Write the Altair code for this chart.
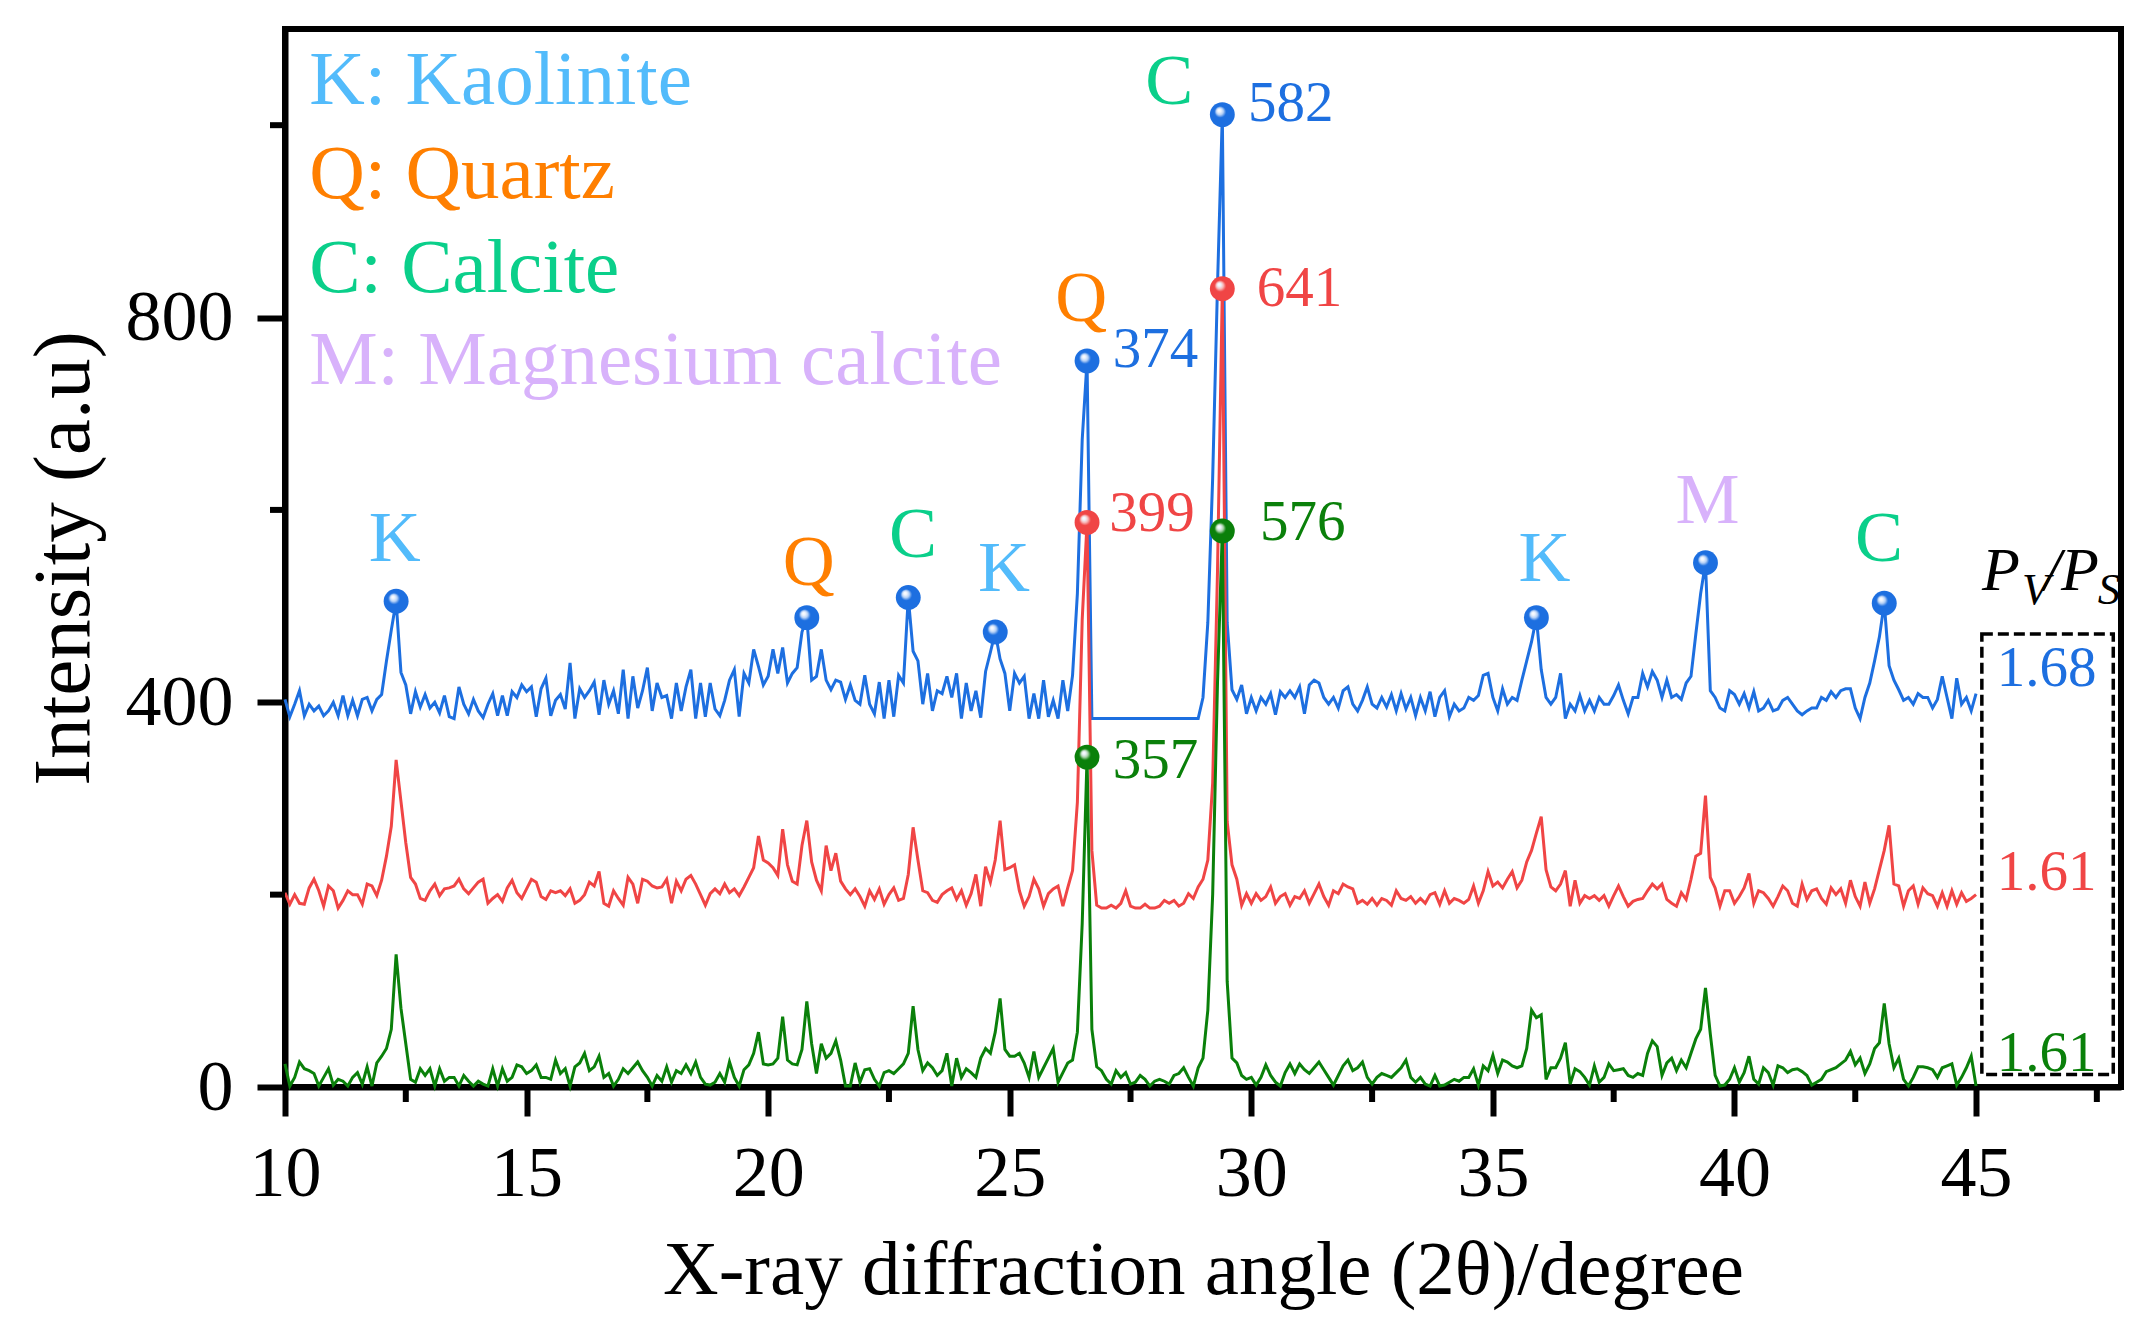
import altair as alt
import pandas as pd

# ---------------- data ----------------
ANGLE_START = 10.0
ANGLE_STEP = 0.1   # 2-theta sampling of the traces below (10.0 ... 45.0)

# counts above each trace's own baseline, one value per 0.1 degree
blue_counts = [
    20, 2, 15, 29, 3, 15, 8, 13, 3, 8,          # 10
    17, 3, 24, 3, 19, 3, 20, 22, 8, 20,         # 11
    25, 60, 92, 122, 48, 35, 5, 28, 12, 25,     # 12
    11, 17, 6, 24, 2, 0, 33, 15, 5, 20,         # 13
    8, 1, 15, 26, 3, 24, 3, 28, 22, 35,         # 14
    28, 33, 2, 31, 42, 3, 19, 25, 10, 58,       # 15
    0, 31, 22, 29, 38, 4, 40, 15, 29, 5,        # 16
    51, 0, 44, 11, 29, 53, 8, 37, 22, 24,       # 17
    0, 37, 8, 33, 51, 0, 37, 2, 37, 10,         # 18
    3, 19, 40, 51, 2, 47, 37, 72, 54, 35,       # 19
    44, 72, 47, 74, 37, 47, 53, 90, 105, 40,    # 20
    44, 72, 40, 30, 40, 38, 20, 35, 19, 15,     # 21
    45, 15, 5, 38, 0, 40, 2, 45, 37, 126,       # 22
    70, 60, 15, 47, 8, 29, 26, 44, 22, 47,      # 23
    0, 37, 8, 29, 1, 49, 69, 90, 62, 47,        # 24
    8, 47, 37, 44, 0, 26, 0, 40, 2, 19,         # 25
    0, 40, 8, 45, 130, 290, 372, 0, 0, 0,       # 26
    0, 0, 0, 0, 0, 0, 0, 0, 0, 0,               # 27
    0, 0, 0, 0, 0, 0, 0, 0, 0, 0,               # 28
    22, 100, 250, 450, 628, 100, 30, 20, 35, 5, # 29
    22, 8, 22, 15, 26, 4, 28, 22, 29, 22,       # 30
    33, 5, 35, 40, 37, 22, 15, 22, 11, 29,      # 31
    33, 15, 8, 19, 33, 15, 11, 22, 12, 25,      # 32
    8, 26, 10, 22, 3, 22, 8, 28, 2, 22,         # 33
    29, 2, 15, 8, 11, 22, 19, 24, 45, 47,       # 34
    22, 8, 31, 15, 22, 19, 40, 60, 80, 105,     # 35
    51, 22, 15, 22, 47, 0, 15, 8, 24, 8,        # 36
    19, 8, 22, 15, 15, 24, 35, 19, 5, 22,       # 37
    22, 47, 33, 49, 40, 22, 40, 22, 25, 20,     # 38
    37, 44, 88, 130, 162, 29, 22, 11, 8, 29,    # 39
    25, 15, 26, 11, 28, 8, 11, 19, 8, 10,       # 40
    19, 22, 15, 8, 4, 8, 11, 11, 22, 19,        # 41
    28, 22, 29, 31, 31, 11, 0, 22, 37, 60,      # 42
    85, 120, 55, 40, 30, 19, 22, 15, 26, 22,    # 43
    22, 11, 20, 44, 22, 0, 42, 15, 22, 8,       # 44
    26,                                          # 45
]

red_counts = [
    16, 4, 14, 5, 4, 21, 30, 18, 2, 23,         # 10
    18, 0, 8, 18, 14, 14, 4, 25, 23, 13,        # 11
    29, 54, 85, 154, 111, 68, 32, 25, 10, 8,    # 12
    18, 25, 13, 20, 21, 23, 30, 20, 15, 21,     # 13
    27, 30, 5, 10, 14, 7, 21, 29, 16, 10,       # 14
    20, 30, 27, 12, 9, 18, 16, 18, 13, 20,      # 15
    5, 8, 14, 27, 23, 38, 5, 2, 18, 10,         # 16
    3, 32, 25, 5, 30, 28, 23, 21, 22, 30,       # 17
    5, 28, 18, 30, 34, 25, 14, 3, 15, 20,       # 18
    15, 25, 16, 20, 13, 22, 32, 42, 75, 50,     # 19
    47, 42, 34, 82, 45, 28, 25, 65, 91, 48,     # 20
    29, 18, 65, 39, 57, 28, 20, 14, 20, 12,     # 21
    2, 18, 9, 20, 4, 14, 21, 8, 10, 35,         # 22
    84, 50, 18, 16, 8, 6, 14, 18, 21, 9,        # 23
    18, 3, 15, 35, 2, 43, 27, 50, 91, 40,       # 24
    42, 45, 18, 2, 12, 30, 20, 2, 15, 20,       # 25
    23, 2, 21, 39, 110, 300, 401, 60, 3, 0,     # 26
    0, 3, 0, 5, 18, 2, 0, 0, 4, 0,              # 27
    0, 2, 8, 5, 8, 2, 5, 15, 10, 22,            # 28
    30, 50, 130, 350, 644, 90, 45, 30, 3, 15,   # 29
    5, 15, 8, 12, 22, 5, 12, 15, 3, 12,         # 30
    10, 18, 5, 15, 25, 12, 3, 18, 15, 25,       # 31
    22, 20, 5, 8, 4, 10, 3, 10, 8, 3,           # 32
    18, 10, 8, 12, 5, 10, 5, 14, 16, 4,         # 33
    18, 5, 10, 8, 5, 9, 23, 5, 18, 38,          # 34
    23, 27, 21, 30, 38, 21, 29, 48, 60, 78,     # 35
    95, 40, 22, 18, 25, 39, 2, 29, 5, 13,       # 36
    10, 13, 8, 13, 2, 13, 23, 12, 2, 7,         # 37
    9, 10, 18, 25, 20, 25, 9, 5, 2, 16,         # 38
    9, 30, 54, 57, 117, 32, 21, 2, 18, 18,      # 39
    5, 12, 21, 36, 5, 18, 16, 10, 2, 12,        # 40
    23, 18, 5, 2, 25, 9, 18, 20, 10, 4,         # 41
    21, 14, 20, 5, 29, 12, 2, 27, 5, 20,        # 42
    40, 60, 86, 25, 23, 2, 18, 23, 4, 21,       # 43
    15, 13, 2, 16, 2, 18, 4, 16, 7, 10,         # 44
    14,                                          # 45
]

green_counts = [
    24, 1, 10, 26, 19, 17, 14, 1, 10, 19,       # 10
    2, 8, 6, 1, 10, 15, 3, 21, 1, 25,           # 11
    32, 40, 60, 138, 82, 45, 8, 5, 19, 12,      # 12
    19, 1, 19, 6, 10, 10, 1, 12, 6, 1,          # 13
    6, 3, 1, 19, 1, 19, 6, 10, 23, 21,          # 14
    14, 17, 23, 10, 10, 8, 28, 14, 19, 1,       # 15
    21, 25, 35, 17, 21, 32, 10, 14, 1, 8,       # 16
    19, 14, 20, 26, 17, 10, 1, 12, 6, 21,       # 17
    5, 17, 14, 23, 14, 26, 10, 3, 2, 5,         # 18
    14, 5, 26, 10, 1, 18, 23, 35, 57, 24,       # 19
    23, 24, 30, 73, 28, 24, 23, 39, 89, 45,     # 20
    14, 45, 30, 35, 48, 28, 1, 1, 25, 5,        # 21
    18, 19, 8, 1, 15, 17, 14, 19, 24, 35,       # 22
    84, 39, 17, 25, 20, 12, 17, 35, 1, 30,      # 23
    10, 19, 15, 10, 30, 40, 35, 57, 92, 39,     # 24
    32, 32, 35, 25, 10, 37, 10, 20, 30, 40,     # 25
    5, 15, 25, 28, 57, 170, 343, 60, 21, 17,    # 26
    8, 3, 17, 10, 15, 3, 5, 12, 8, 1,           # 27
    6, 8, 6, 3, 12, 14, 20, 10, 1, 20,          # 28
    30, 80, 200, 420, 578, 110, 30, 25, 12, 8,  # 29
    10, 2, 10, 23, 12, 5, 1, 15, 24, 14,        # 30
    24, 18, 14, 20, 26, 18, 10, 2, 12, 22,      # 31
    28, 17, 20, 26, 10, 3, 10, 14, 12, 10,      # 32
    15, 20, 28, 10, 5, 10, 3, 1, 12, 1,         # 33
    2, 5, 8, 6, 10, 10, 19, 2, 22, 17,          # 34
    33, 14, 28, 26, 22, 20, 22, 40, 80, 72,     # 35
    75, 8, 20, 20, 30, 46, 3, 19, 16, 10,       # 36
    2, 22, 5, 10, 24, 17, 18, 19, 12, 10,       # 37
    14, 12, 35, 48, 42, 12, 25, 30, 17, 28,     # 38
    20, 35, 50, 60, 103, 55, 12, 1, 2, 8,       # 39
    20, 5, 15, 32, 8, 3, 20, 15, 2, 22,         # 40
    20, 15, 18, 19, 16, 12, 2, 5, 8, 16,        # 41
    18, 20, 24, 28, 37, 23, 30, 14, 24, 40,     # 42
    46, 87, 45, 20, 30, 8, 1, 10, 21, 21,       # 43
    20, 18, 10, 20, 22, 24, 2, 10, 20, 32,      # 44
    1,                                           # 45
]

trace_names = ["blue", "red", "green"]
trace_offsets = [383, 186, 0]
trace_colors = ["#1d6fe0", "#f04545", "#0a800a"]
trace_light = ["#b4d0f6", "#f8b8b8", "#a9d3a9"]

# peaks marked with a ball
blue_peaks = [12.3, 20.8, 22.9, 24.7, 26.6, 29.4, 35.9, 39.4, 43.1]
red_peaks = [26.6, 29.4]
green_peaks = [26.6, 29.4]

# phase legend
legend_labels = ["K: Kaolinite", "Q: Quartz", "C: Calcite", "M: Magnesium calcite"]
legend_colors = ["#52bbfb", "#ff7f00", "#0acf8a", "#d8b2fb"]
legend_y = [1022, 924, 826.6, 731]

# phase letters over peaks
phase_letters = ["K", "Q", "C", "K", "Q", "C", "K", "M", "C"]
phase_x = [12.27, 20.84, 23.0, 24.88, 26.48, 28.3, 36.07, 39.44, 42.99]
phase_y = [546.5, 522, 551, 515.4, 796, 1022, 526.6, 586.6, 546.5]
phase_colors = ["#52bbfb", "#ff7f00", "#0acf8a", "#52bbfb", "#ff7f00",
                "#0acf8a", "#52bbfb", "#d8b2fb", "#0acf8a"]

# peak value annotations
value_labels = ["374", "582", "399", "641", "357", "576"]
value_x = [27.13, 29.93, 27.06, 30.11, 27.13, 30.18]
value_y = [748.3, 1004, 577.7, 812, 321.2, 568.8]
value_colors = ["#1d6fe0", "#1d6fe0", "#f04545", "#f04545", "#0a800a", "#0a800a"]

# Pv/Ps ratios
ratio_labels = ["1.68", "1.61", "1.61"]
ratio_y = [417.1, 204.4, 17.0]
ratio_x = 46.46

# axes
x_major = [10, 15, 20, 25, 30, 35, 40, 45]
x_minor = [12.5, 17.5, 22.5, 27.5, 32.5, 37.5, 42.5, 47.5]
y_major = [0, 400, 800]
y_minor = [200, 600, 1000]

FONT = "Liberation Serif"
W, H = 1836, 1058

# ---------------- tables ----------------
rows = []
for name, counts, off in zip(trace_names, [blue_counts, red_counts, green_counts], trace_offsets):
    assert len(counts) == 351, (name, len(counts))
    for i, c in enumerate(counts):
        rows.append({"trace": name,
                     "angle": round(ANGLE_START + ANGLE_STEP * i, 1),
                     "intensity": c + off})
df = pd.DataFrame(rows)


def peak_table(name, angles):
    sub = df[df.trace == name]
    out = []
    for a in angles:
        r = sub.iloc[(sub.angle - a).abs().argmin()]
        out.append({"angle": r.angle, "intensity": r.intensity})
    return pd.DataFrame(out)


x_enc = alt.X("angle:Q",
              scale=alt.Scale(domain=[10, 48], nice=False, zero=False),
              axis=alt.Axis(values=x_major, format="d", tickSize=29, tickWidth=6,
                            domainWidth=6, labelFontSize=72, labelPadding=22,
                            labelFlush=False, labelOverlap=False, grid=False,
                            title="X-ray diffraction angle (2θ)/degree",
                            titleFontSize=77, titleFontWeight="normal",
                            titleBaseline="alphabetic", titleY=206))
y_enc = alt.Y("intensity:Q",
              scale=alt.Scale(domain=[0, 1100], nice=False, zero=False),
              axis=alt.Axis(values=y_major, format="d", tickSize=28, tickWidth=6,
                            domainWidth=6, labelFontSize=72, labelPadding=24,
                            labelOverlap=False, grid=False,
                            title="Intensity (a.u)", titleFontSize=81,
                            titleFontWeight="normal", titleAngle=270,
                            titleX=-197, titleY=H / 2, titleAlign="center",
                            titleBaseline="alphabetic"))

layers = []
# traces
for name, col in zip(trace_names, trace_colors):
    layers.append(
        alt.Chart(df[df.trace == name]).mark_line(color=col, strokeWidth=3)
        .encode(x=x_enc, y=y_enc)
    )

# balls on peaks
for name, peaks, col, light in zip(trace_names, [blue_peaks, red_peaks, green_peaks],
                                   trace_colors, trace_light):
    grad = {
        "gradient": "radial",
        "x1": 0.36, "y1": 0.32, "r1": 0.0,
        "x2": 0.5, "y2": 0.5, "r2": 0.55,
        "stops": [
            {"offset": 0.0, "color": "#ffffff"},
            {"offset": 0.12, "color": "#eef4fd"},
            {"offset": 0.26, "color": light},
            {"offset": 0.42, "color": col},
            {"offset": 1.0, "color": col},
        ],
    }
    layers.append(
        alt.Chart(peak_table(name, peaks)).mark_circle(size=620, opacity=1, fill=grad)
        .encode(x=x_enc, y=y_enc)
    )

# minor ticks
layers.append(
    alt.Chart(pd.DataFrame({"angle": x_minor})).mark_rule(color="black", strokeWidth=6)
    .encode(x=x_enc, y=alt.value(H), y2=alt.value(H + 15))
)
layers.append(
    alt.Chart(pd.DataFrame({"intensity": y_minor})).mark_rule(color="black", strokeWidth=6)
    .encode(y=y_enc, x=alt.value(-15), x2=alt.value(0))
)

# dashed box around the ratios
box = pd.DataFrame({"angle": [45.12], "angle2": [47.84],
                    "intensity": [13.0], "intensity2": [470.9]})
layers.append(
    alt.Chart(box).mark_rect(fill="transparent", stroke="black", strokeWidth=3.5,
                             strokeDash=[11, 5])
    .encode(x=x_enc, x2=alt.X2("angle2:Q"), y=y_enc, y2=alt.Y2("intensity2:Q"))
)

# left-aligned texts
left_rows = []
for lab, col, yy in zip(legend_labels, legend_colors, legend_y):
    left_rows.append({"angle": 10.5, "intensity": yy, "label": lab, "col": col, "fs": 77})
for lab, xx, yy, col in zip(value_labels, value_x, value_y, value_colors):
    left_rows.append({"angle": xx, "intensity": yy, "label": lab, "col": col, "fs": 57})
layers.append(
    alt.Chart(pd.DataFrame(left_rows))
    .mark_text(align="left", baseline="alphabetic", font=FONT)
    .encode(x=x_enc, y=y_enc, text="label:N",
            color=alt.Color("col:N", scale=None), size=alt.Size("fs:Q", scale=None))
)

# centered texts
center_rows = []
for lab, xx, yy, col in zip(phase_letters, phase_x, phase_y, phase_colors):
    center_rows.append({"angle": xx, "intensity": yy, "label": lab, "col": col, "fs": 72})
for lab, yy, col in zip(ratio_labels, ratio_y, trace_colors):
    center_rows.append({"angle": ratio_x, "intensity": yy, "label": lab, "col": col, "fs": 57})
layers.append(
    alt.Chart(pd.DataFrame(center_rows))
    .mark_text(align="center", baseline="alphabetic", font=FONT)
    .encode(x=x_enc, y=y_enc, text="label:N",
            color=alt.Color("col:N", scale=None), size=alt.Size("fs:Q", scale=None))
)

# P_V / P_S heading (italic with subscripts)
pv_rows = [
    {"angle": 45.124, "intensity": 517.1, "label": "P", "col": "black", "fs": 62},
    {"angle": 45.952, "intensity": 501.8, "label": "V", "col": "black", "fs": 45},
    {"angle": 46.40, "intensity": 517.1, "label": "/", "col": "black", "fs": 62},
    {"angle": 46.76, "intensity": 517.1, "label": "P", "col": "black", "fs": 62},
    {"angle": 47.52, "intensity": 501.8, "label": "S", "col": "black", "fs": 45},
]
layers.append(
    alt.Chart(pd.DataFrame(pv_rows))
    .mark_text(align="left", baseline="alphabetic", font=FONT, fontStyle="italic")
    .encode(x=x_enc, y=y_enc, text="label:N",
            color=alt.Color("col:N", scale=None), size=alt.Size("fs:Q", scale=None))
)

chart = (
    alt.layer(*layers)
    .properties(width=W, height=H, background="white",
                padding={"left": 277, "top": 21, "right": 20, "bottom": 240},
                autosize=alt.AutoSizeParams(type="none"))
    .configure_view(stroke="black", strokeWidth=6)
    .configure_axis(labelFont=FONT, titleFont=FONT, labelColor="black",
                    titleColor="black", tickColor="black", domainColor="black")
)

chart.save("out.html", embed_options={"renderer": "svg", "actions": False})
